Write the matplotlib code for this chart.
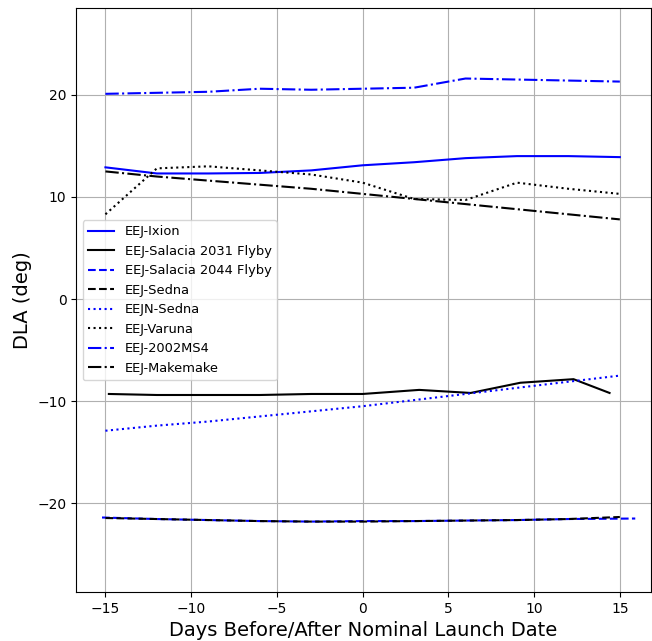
import matplotlib
matplotlib.use("Agg")
import matplotlib.pyplot as plt

days = [-15, -12, -9, -6, -3, 0, 3, 6, 9, 12, 15]

ixion = [12.9, 12.3, 12.3, 12.35, 12.6, 13.1, 13.4, 13.8, 14.0, 14.0, 13.9]

salacia31_x = [-14.8, -12, -9, -6, -3, 0, 3.3, 6.3, 9.2, 12.3, 14.4]
salacia31 = [-9.3, -9.4, -9.4, -9.4, -9.3, -9.3, -8.9, -9.2, -8.2, -7.85, -9.2]

salacia44_x = [-15.2, -12, -9, -6, -3, 0, 3, 6, 9, 12, 15.9]
salacia44 = [-21.4, -21.55, -21.65, -21.75, -21.8, -21.75, -21.75, -21.7, -21.65, -21.55, -21.5]

sedna = [-21.45, -21.55, -21.65, -21.75, -21.8, -21.8, -21.75, -21.7, -21.65, -21.55, -21.35]

eejn_sedna = [-12.9, -12.4, -12.0, -11.5, -11.0, -10.5, -9.9, -9.3, -8.7, -8.1, -7.5]

varuna = [8.3, 12.8, 13.0, 12.6, 12.2, 11.4, 9.8, 9.7, 11.4, 10.8, 10.3]

ms4 = [20.1, 20.2, 20.3, 20.6, 20.5, 20.6, 20.7, 21.6, 21.5, 21.4, 21.3]

makemake = [12.5, 12.0, 11.6, 11.2, 10.8, 10.3, 9.8, 9.3, 8.8, 8.3, 7.8]

fig = plt.figure(figsize=(6.52, 6.41), dpi=100)
ax = fig.add_axes([0.117, 0.0764, 0.881, 0.911])

ax.plot(days, ixion, color="blue", linestyle="-", lw=1.5, label="EEJ-Ixion")
ax.plot(salacia31_x, salacia31, color="black", linestyle="-", lw=1.5, label="EEJ-Salacia 2031 Flyby")
ax.plot(salacia44_x, salacia44, color="blue", linestyle="--", lw=1.5, label="EEJ-Salacia 2044 Flyby")
ax.plot(days, sedna, color="black", linestyle="--", lw=1.5, label="EEJ-Sedna")
ax.plot(days, eejn_sedna, color="blue", linestyle=":", lw=1.5, label="EEJN-Sedna")
ax.plot(days, varuna, color="black", linestyle=":", lw=1.5, label="EEJ-Varuna")
ax.plot(days, ms4, color="blue", linestyle="-.", lw=1.5, label="EEJ-2002MS4")
ax.plot(days, makemake, color="black", linestyle="-.", lw=1.5, label="EEJ-Makemake")

ax.set_xlim(-16.7, 16.8)
ax.set_ylim(-28.7, 28.5)
ax.set_xticks([-15, -10, -5, 0, 5, 10, 15])
ax.set_yticks([-20, -10, 0, 10, 20])
ax.grid(True)
ax.set_xlabel("Days Before/After Nominal Launch Date", fontsize=14)
ax.set_ylabel("DLA (deg)", fontsize=14)
ax.legend(loc="center left", fontsize=9.4)

fig.savefig("out.png", dpi=100)
